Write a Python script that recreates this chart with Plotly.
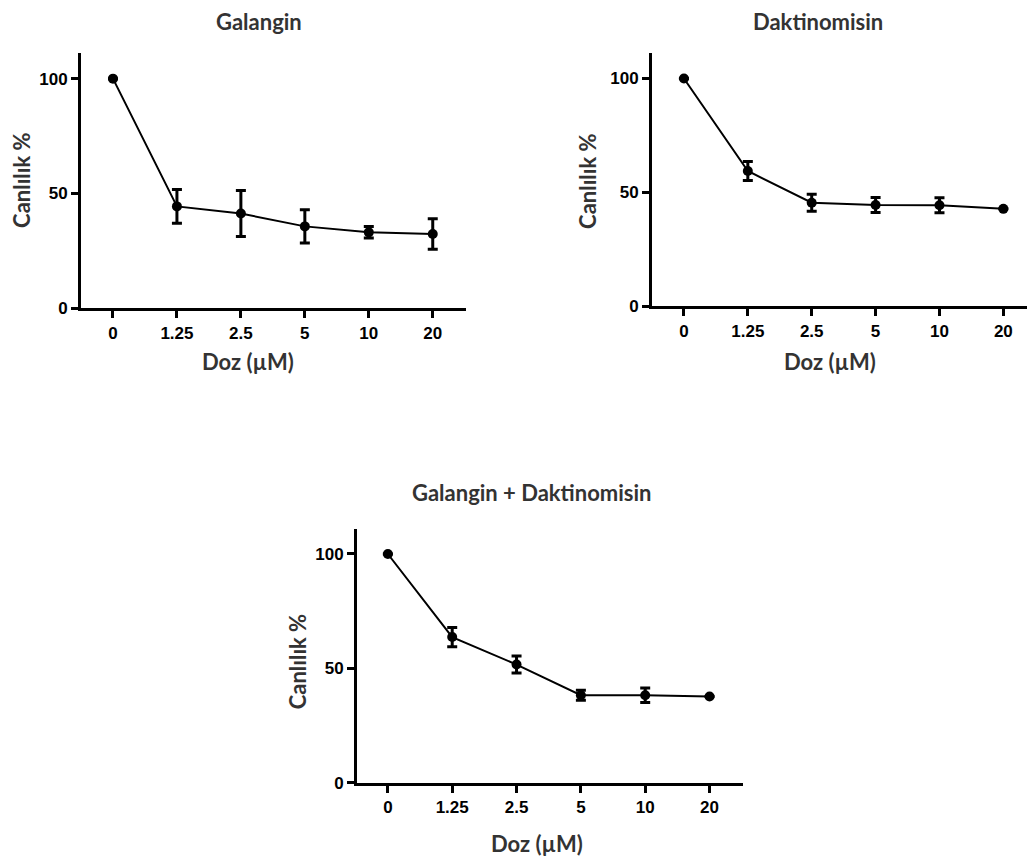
import plotly.graph_objects as go

doses = ["0", "1.25", "2.5", "5", "10", "20"]

galangin_mean = [100, 44.4, 41.3, 35.7, 33.1, 32.4]
galangin_err = [None, 7.3, 10.0, 7.2, 2.5, 6.6]

daktino_mean = [100, 59.4, 45.5, 44.5, 44.4, 42.8]
daktino_err = [None, 4.2, 3.7, 3.3, 3.3, None]

combo_mean = [100, 63.7, 51.7, 38.3, 38.3, 37.7]
combo_err = [None, 4.2, 3.7, 2.2, 3.2, None]

titles = ["Galangin", "Daktinomisin", "Galangin + Daktinomisin"]
x_title = "Doz (µM)"
y_title = "Canlılık %"
y_ticks = [0, 50, 100]

W, H = 1027, 867

# panel geometry in pixels: (left, right, top, bottom)
panels = [
    (81, 466, 54, 312),
    (652, 1027, 54, 310),
    (357, 743, 535, 792),
]
x_ranges = [[-0.5, 5.52], [-0.5, 5.37], [-0.48, 5.52]]

fig = go.Figure()

series = [(galangin_mean, galangin_err), (daktino_mean, daktino_err), (combo_mean, combo_err)]

tick_font = dict(family="Liberation Sans", size=17, color="black", weight="bold")
label_font = dict(family="Lato", size=22, color="#333333", weight="bold")

for i, ((m, e), (l, r, t, b)) in enumerate(zip(series, panels)):
    xa = "x" if i == 0 else f"x{i+1}"
    ya = "y" if i == 0 else f"y{i+1}"
    fig.add_trace(go.Scatter(
        x=doses, y=m, mode="lines+markers",
        line=dict(color="black", width=2),
        marker=dict(color="black", size=10, symbol="circle"),
        error_y=dict(type="data", array=e, visible=True, color="black", thickness=3, width=5),
        xaxis=xa, yaxis=ya, showlegend=False,
    ))
    xkey = "xaxis" if i == 0 else f"xaxis{i+1}"
    ykey = "yaxis" if i == 0 else f"yaxis{i+1}"
    fig.layout[xkey] = dict(
        domain=[l / W, r / W], anchor=ya, type="category", range=x_ranges[i],
        showline=True, linecolor="black", linewidth=3, ticks="outside",
        ticklen=7, tickwidth=2.5, tickcolor="black", showgrid=False, zeroline=False,
        tickfont=tick_font, fixedrange=True,
    )
    fig.layout[ykey] = dict(
        domain=[1 - b / H, 1 - t / H], anchor=xa, range=[0, 111],
        tickvals=y_ticks, showline=True, linecolor="black", linewidth=3,
        ticks="outside", ticklen=7, tickwidth=2.5, tickcolor="black",
        showgrid=False, zeroline=False, tickfont=tick_font, fixedrange=True,
    )

annotations = []
title_pos = [(259, 22), (818, 22), (531, 498)]
xt_pos = [(248, 366), (830, 366), (537, 853)]
yt_pos = [(22, 183), (588, 184), (297, 670)]
for i in range(3):
    annotations.append(dict(text=titles[i], x=title_pos[i][0] / W, y=1 - title_pos[i][1] / H,
                            xref="paper", yref="paper", showarrow=False,
                            xanchor="center", yanchor="middle", font=label_font))
    annotations.append(dict(text=x_title, x=xt_pos[i][0] / W, y=1 - xt_pos[i][1] / H,
                            xref="paper", yref="paper", showarrow=False,
                            xanchor="center", yanchor="middle", font=label_font))
    annotations.append(dict(text=y_title, x=yt_pos[i][0] / W, y=1 - yt_pos[i][1] / H,
                            xref="paper", yref="paper", showarrow=False, textangle=-90,
                            xanchor="center", yanchor="middle", font=label_font))

fig.update_layout(
    width=W, height=H, margin=dict(l=0, r=0, t=0, b=0),
    paper_bgcolor="white", plot_bgcolor="white",
    annotations=annotations,
)

fig.write_html("out.html")
